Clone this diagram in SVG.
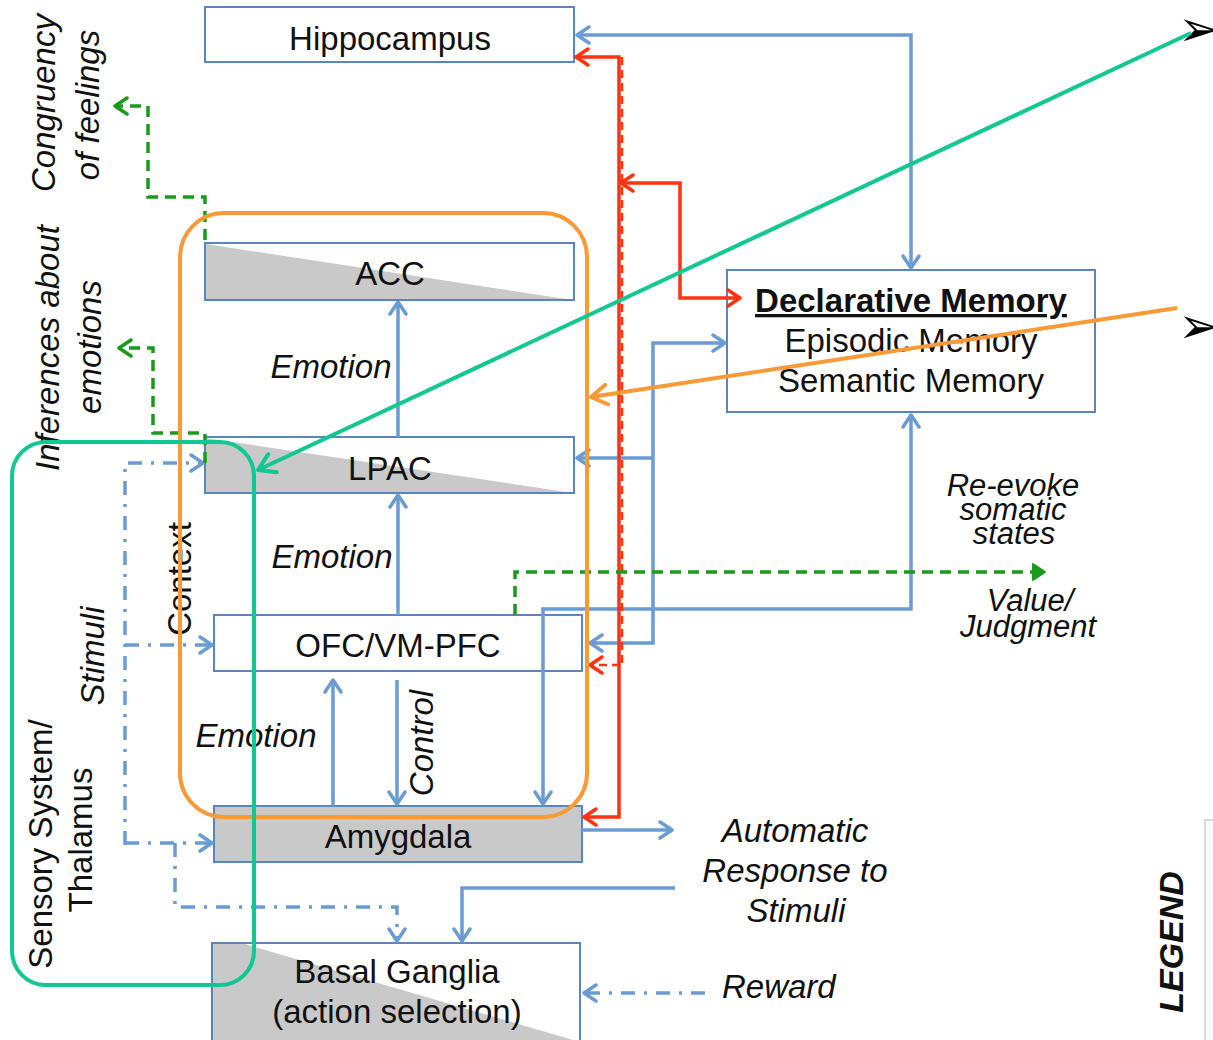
<svg xmlns="http://www.w3.org/2000/svg" width="1213" height="1040" viewBox="0 0 1213 1040">
<style>
text{font-family:"Liberation Sans",Arial,sans-serif;font-size:33px;fill:#111}
.it{font-style:italic}
.sm{font-size:31px}
.node{fill:#fff;stroke:#5a86bd;stroke-width:2}
.gray{fill:#c9c9c9}
.blue{fill:none;stroke:#6a9bd2;stroke-width:3.5}
.dd{fill:none;stroke:#6a9bd2;stroke-width:3.5;stroke-dasharray:14 9 3 9}
.red{fill:none;stroke:#ff3311;stroke-width:3.5}
.redd{fill:none;stroke:#ff3311;stroke-width:2.5;stroke-dasharray:8 5}
.grn{fill:none;stroke:#1a9a1a;stroke-width:3.5;stroke-dasharray:11 7}
.mid{text-anchor:middle}
.bul{font-family:"DejaVu Sans",sans-serif;font-size:50px;fill:#000}
</style>
<defs>
<marker id="ab" markerUnits="userSpaceOnUse" markerWidth="16" markerHeight="20" viewBox="0 0 16 20" refX="14" refY="10" orient="auto-start-reverse"><path d="M2,2 L14,10 L2,18" fill="none" stroke="#6a9bd2" stroke-width="3.5" stroke-linecap="round" stroke-linejoin="round"/></marker>
<marker id="ar" markerUnits="userSpaceOnUse" markerWidth="16" markerHeight="20" viewBox="0 0 16 20" refX="14" refY="10" orient="auto-start-reverse"><path d="M2,2 L14,10 L2,18" fill="none" stroke="#ff3311" stroke-width="3.5" stroke-linecap="round" stroke-linejoin="round"/></marker>
<marker id="ag" markerUnits="userSpaceOnUse" markerWidth="16" markerHeight="20" viewBox="0 0 16 20" refX="14" refY="10" orient="auto"><path d="M2,2 L14,10 L2,18 Z" fill="#1a9a1a" stroke="#1a9a1a" stroke-width="2" stroke-linejoin="round"/></marker>
<marker id="agc" markerUnits="userSpaceOnUse" markerWidth="16" markerHeight="20" viewBox="0 0 16 20" refX="14" refY="10" orient="auto"><path d="M2,2 L14,10 L2,18" fill="none" stroke="#1a9a1a" stroke-width="3.5" stroke-linecap="round" stroke-linejoin="round"/></marker>
<marker id="at" markerUnits="userSpaceOnUse" markerWidth="20" markerHeight="24" viewBox="0 0 20 24" refX="18" refY="12" orient="auto"><path d="M2,2 L18,12 L2,22" fill="none" stroke="#12c892" stroke-width="4" stroke-linecap="round" stroke-linejoin="round"/></marker>
<marker id="ao" markerUnits="userSpaceOnUse" markerWidth="20" markerHeight="24" viewBox="0 0 20 24" refX="18" refY="12" orient="auto"><path d="M2,2 L18,12 L2,22" fill="none" stroke="#f99a36" stroke-width="4" stroke-linecap="round" stroke-linejoin="round"/></marker>
</defs>

<g id="legend-box">
<rect x="1205" y="820" width="20" height="230" fill="#fafafa" stroke="#d8d8d8" stroke-width="2"/>
<text transform="translate(1183,942) rotate(-90)" class="mid" style="font-weight:bold;font-style:italic;font-size:34px">LEGEND</text>
</g>

<g id="nodes">
<g id="hippocampus"><rect class="node" x="205" y="7" width="369" height="55"/><text x="390" y="50" class="mid">Hippocampus</text></g>
<g id="acc"><rect class="node" x="205" y="243" width="369" height="57"/><polygon class="gray" points="206,244 206,299 566,299"/><rect x="205" y="243" width="369" height="57" fill="none" stroke="#5a86bd" stroke-width="2"/><text x="390" y="285" class="mid">ACC</text></g>
<g id="lpac"><rect class="node" x="205" y="437" width="369" height="56"/><polygon class="gray" points="206,438 206,492 566,492"/><rect x="205" y="437" width="369" height="56" fill="none" stroke="#5a86bd" stroke-width="2"/><text x="390" y="480" class="mid">LPAC</text></g>
<g id="ofc"><rect class="node" x="214" y="615" width="368" height="56"/><text x="398" y="657" class="mid">OFC/VM-PFC</text></g>
<g id="amygdala"><rect x="214" y="806" width="368" height="56" fill="#c9c9c9" stroke="#5a86bd" stroke-width="2"/><text x="398" y="848" class="mid">Amygdala</text></g>
<g id="basal-ganglia"><rect class="node" x="212" y="943" width="368" height="110"/><polygon class="gray" points="213,944 245,944 580,1042 213,1042"/><rect x="212" y="943" width="368" height="110" fill="none" stroke="#5a86bd" stroke-width="2"/><text x="397" y="983" class="mid">Basal Ganglia</text><text x="397" y="1023" class="mid">(action selection)</text></g>
<g id="declarative-memory"><rect class="node" x="727" y="270" width="368" height="142"/><text x="911" y="312" class="mid" style="font-weight:bold;text-decoration:underline">Declarative Memory</text><text x="911" y="352" class="mid">Episodic Memory</text><text x="911" y="392" class="mid">Semantic Memory</text></g>
</g>

<g id="labels">
<text transform="translate(55,103) rotate(-90)" class="mid it">Congruency</text>
<text transform="translate(99,105) rotate(-90)" class="mid it">of feelings</text>
<text transform="translate(59,348) rotate(-90)" class="mid it">Inferences about</text>
<text transform="translate(101,347) rotate(-90)" class="mid it">emotions</text>
<text transform="translate(104,656) rotate(-90)" class="mid it">Stimuli</text>
<text transform="translate(191,579) rotate(-90)" class="mid">Context</text>
<text transform="translate(52,844) rotate(-90)" class="mid">Sensory System/</text>
<text transform="translate(92,840) rotate(-90)" class="mid">Thalamus</text>
<text transform="translate(433,743) rotate(-90)" class="mid it">Control</text>
<text x="331" y="378" class="mid it">Emotion</text>
<text x="332" y="568" class="mid it">Emotion</text>
<text x="256" y="747" class="mid it">Emotion</text>
<text x="1013" y="496" class="mid it sm">Re-evoke</text>
<text x="1013" y="520" class="mid it sm">somatic</text>
<text x="1014" y="544" class="mid it sm">states</text>
<text x="1030" y="611" class="mid it sm">Value/</text>
<text x="1028" y="637" class="mid it sm">Judgment</text>
<text x="795" y="842" class="mid it">Automatic</text>
<text x="795" y="882" class="mid it">Response to</text>
<text x="796" y="922" class="mid it">Stimuli</text>
<text x="722" y="998" class="it">Reward</text>
<text x="1178" y="46" class="bul">➢</text>
<text x="1178" y="343" class="bul">➢</text>
</g>

<g id="connectors">
<path class="blue" d="M911,268 V35 H577" marker-start="url(#ab)" marker-end="url(#ab)"/>
<path class="blue" d="M398,437 V302" marker-end="url(#ab)"/>
<path class="blue" d="M398,615 V495" marker-end="url(#ab)"/>
<path class="blue" d="M333,806 V680" marker-end="url(#ab)"/>
<path class="blue" d="M397,680 V804" marker-end="url(#ab)"/>
<path class="blue" d="M590,643 H653 V343 H725" marker-start="url(#ab)" marker-end="url(#ab)"/>
<path class="blue" d="M653,458 H577" marker-end="url(#ab)"/>
<path class="blue" d="M543,804 V609 H911 V415" marker-start="url(#ab)" marker-end="url(#ab)"/>
<path class="blue" d="M582,830 H672" marker-end="url(#ab)"/>
<path class="blue" d="M675,888 H462 V941" marker-end="url(#ab)"/>
<path class="dd" d="M705,993 H584" marker-end="url(#ab)"/>
<path class="dd" d="M125,845 V463 H203" marker-end="url(#ab)"/>
<path class="dd" d="M125,645 H212" marker-end="url(#ab)"/>
<path class="dd" d="M125,843 H212" marker-end="url(#ab)"/>
<path class="dd" d="M175,843 V907 H397 V941" marker-end="url(#ab)"/>
<path class="red" d="M584,817 H619 V57 H576" marker-start="url(#ar)" marker-end="url(#ar)"/>
<path class="redd" d="M622,57 V665"/>
<path class="red" d="M621,183 H680 V298 H740" marker-start="url(#ar)" marker-end="url(#ar)"/>
<path class="redd" d="M620,665 H590" marker-end="url(#ar)"/>
<path class="grn" d="M205,240 V197 H148 V106 H115" marker-end="url(#agc)"/>
<path class="grn" d="M205,463 V433 H153 V348 H119" marker-end="url(#agc)"/>
<path class="grn" d="M515,615 V572 H1045" marker-end="url(#ag)"/>
</g>

<g id="highlights">
<rect x="180" y="213" width="407" height="604" rx="44" fill="none" stroke="#f99a36" stroke-width="4"/>
<rect x="12" y="442" width="242" height="543" rx="34" fill="none" stroke="#12c892" stroke-width="4"/>
<path d="M1191,33 L258,470" fill="none" stroke="#12c892" stroke-width="4" marker-end="url(#at)"/>
<path d="M1177,308 L591,397" fill="none" stroke="#f99a36" stroke-width="4" marker-end="url(#ao)"/>
</g>
</svg>
